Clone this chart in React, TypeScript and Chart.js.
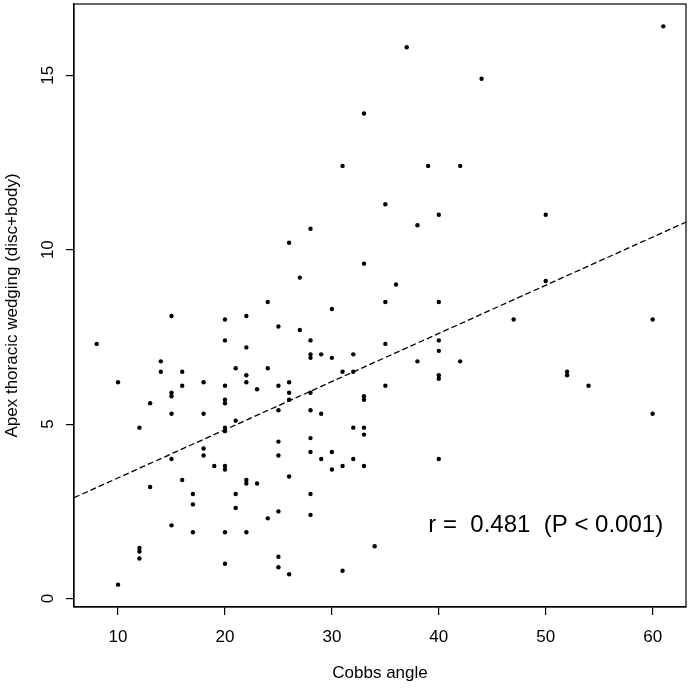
import { useEffect, useRef } from 'react';
import { Chart, registerables } from 'chart.js';

Chart.register(...registerables);

const FONT = '"Liberation Sans", Arial, sans-serif';

// Cobb angle (x) and apex thoracic wedging (y), one entry per patient
const cobbAngle = [
  8,
  10, 10,
  12, 12, 12, 12,
  13, 13,
  14, 14,
  15, 15, 15, 15, 15, 15,
  16, 16, 16,
  17, 17, 17,
  18, 18, 18, 18,
  19,
  20, 20, 20, 20, 20, 20, 20, 20, 20, 20, 20,
  21, 21, 21, 21,
  22, 22, 22, 22, 22, 22, 22,
  23, 23,
  24, 24, 24,
  25, 25, 25, 25, 25, 25, 25, 25,
  26, 26, 26, 26, 26, 26,
  27, 27,
  28, 28, 28, 28, 28, 28, 28, 28, 28, 28,
  29, 29, 29,
  30, 30, 30, 30,
  31, 31, 31, 31,
  32, 32, 32, 32,
  33, 33, 33, 33, 33, 33, 33,
  34,
  35, 35, 35, 35,
  36,
  37,
  38, 38,
  39,
  40, 40, 40, 40, 40, 40, 40,
  42, 42,
  44,
  47,
  50, 50,
  52, 52,
  54,
  60, 60,
  61,
];

const wedging = [
  7.3,
  6.2, 0.4,
  4.9, 1.45, 1.35, 1.15,
  5.6, 3.2,
  6.8, 6.5,
  8.1, 5.9, 5.8, 5.3, 4.0, 2.1,
  6.5, 6.1, 3.4,
  3.0, 2.7, 1.9,
  6.2, 5.3, 4.3, 4.1,
  3.8,
  8.0, 7.4, 6.1, 5.7, 5.6, 4.9, 4.8, 3.8, 3.7, 1.9, 1.0,
  6.6, 5.1, 3.0, 2.6,
  8.1, 7.2, 6.4, 6.2, 3.4, 3.3, 1.9,
  6.0, 3.3,
  8.5, 6.6, 2.3,
  7.8, 6.1, 5.4, 4.5, 4.1, 2.5, 1.2, 0.9,
  10.2, 6.2, 5.9, 5.7, 3.5, 0.7,
  9.2, 7.7,
  10.6, 7.4, 7.0, 6.9, 5.9, 5.4, 4.6, 4.2, 3.0, 2.4,
  7.0, 5.3, 4.0,
  8.3, 6.9, 4.2, 3.7,
  12.4, 6.5, 3.8, 0.8,
  7.0, 6.5, 4.9, 4.0,
  13.9, 9.6, 5.8, 5.7, 4.9, 4.7, 3.8,
  1.5,
  11.3, 8.5, 7.3, 6.1,
  9.0,
  15.8,
  10.7, 6.8,
  12.4,
  11.0, 8.5, 7.4, 7.1, 6.4, 6.3, 4.0,
  12.4, 6.8,
  14.9,
  8.0,
  11.0, 9.1,
  6.5, 6.4,
  6.1,
  8.0, 5.3,
  16.4,
];

const xTicks = [10, 20, 30, 40, 50, 60];
const yTicks = [0, 5, 10, 15];
const xRange = [5.88, 63.12];
const yRange = [-0.24, 17.04];

// least-squares line as printed in the figure
const fitIntercept = 2.08;
const fitSlope = 0.138;
const annotation = 'r =  0.481  (P < 0.001)';
const annotationAt = { x: 50, y: 2.1 };

const extras = {
  id: 'extras',
  afterDraw(chart: any) {
    const { ctx, chartArea: a, scales } = chart;
    ctx.save();
    ctx.strokeStyle = '#000';
    ctx.lineWidth = 1.2;
    ctx.strokeRect(a.left, a.top, a.right - a.left, a.bottom - a.top);

    ctx.fillStyle = '#000';
    ctx.textAlign = 'center';
    ctx.textBaseline = 'middle';
    ctx.font = `17px ${FONT}`;
    for (const v of yTicks) {
      ctx.save();
      ctx.translate(48, scales.y.getPixelForValue(v));
      ctx.rotate(-Math.PI / 2);
      ctx.fillText(String(v), 0, 0);
      ctx.restore();
    }

    ctx.font = `24px ${FONT}`;
    ctx.fillText(annotation, scales.x.getPixelForValue(annotationAt.x), scales.y.getPixelForValue(annotationAt.y));
    ctx.restore();
  },
};

export default function App() {
  const ref = useRef<HTMLCanvasElement>(null);
  const chartRef = useRef<Chart | null>(null);

  useEffect(() => {
    if (!ref.current) return;
    const points = cobbAngle.map((x, i) => ({ x, y: wedging[i] }));
    const fitLine = xRange.map((x) => ({ x, y: fitIntercept + fitSlope * x }));

    chartRef.current?.destroy();
    chartRef.current = new Chart(ref.current, {
      type: 'scatter',
      data: {
        datasets: [
          {
            data: points,
            backgroundColor: '#000',
            borderWidth: 0,
            pointRadius: 2.2,
          },
          {
            type: 'line',
            data: fitLine,
            borderColor: '#000',
            borderWidth: 1.3,
            borderDash: [6, 3],
            pointRadius: 0,
            fill: false,
          },
        ],
      },
      options: {
        responsive: true, maintainAspectRatio: false, animation: false,
        layout: { padding: { top: 2, right: 2, left: 0, bottom: 0 } },
        plugins: { legend: { display: false }, tooltip: { enabled: false } },
        scales: {
          x: {
            type: 'linear', min: xRange[0], max: xRange[1],
            afterBuildTicks: (s: any) => { s.ticks = xTicks.map((value) => ({ value })); },
            afterFit: (s: any) => { s.height = 83; },
            grid: { drawOnChartArea: false, drawTicks: true, tickLength: 8, color: '#000', lineWidth: 1.2 },
            border: { display: true, color: '#000', width: 1.2 },
            ticks: { color: '#000', padding: 12, font: { size: 17, family: FONT } },
            title: { display: true, text: 'Cobbs angle', color: '#000', font: { size: 17, family: FONT }, padding: { top: 0, bottom: 6 } },
          },
          y: {
            type: 'linear', min: yRange[0], max: yRange[1],
            afterBuildTicks: (s: any) => { s.ticks = yTicks.map((value) => ({ value })); },
            afterFit: (s: any) => { s.width = 74; },
            grid: { drawOnChartArea: false, drawTicks: true, tickLength: 8, color: '#000', lineWidth: 1.2 },
            border: { display: true, color: '#000', width: 1.2 },
            ticks: { display: false },
            title: { display: true, text: 'Apex thoracic wedging (disc+body)', color: '#000', font: { size: 17, family: FONT }, padding: { top: 2, bottom: 0 } },
          },
        },
      },
      plugins: [extras],
    });
    return () => { chartRef.current?.destroy(); };
  }, []);

  return (
    <div style={{ position: 'fixed', left: 0, top: 0, width: 690, height: 690, background: '#fff' }}>
      <canvas ref={ref} />
    </div>
  );
}
